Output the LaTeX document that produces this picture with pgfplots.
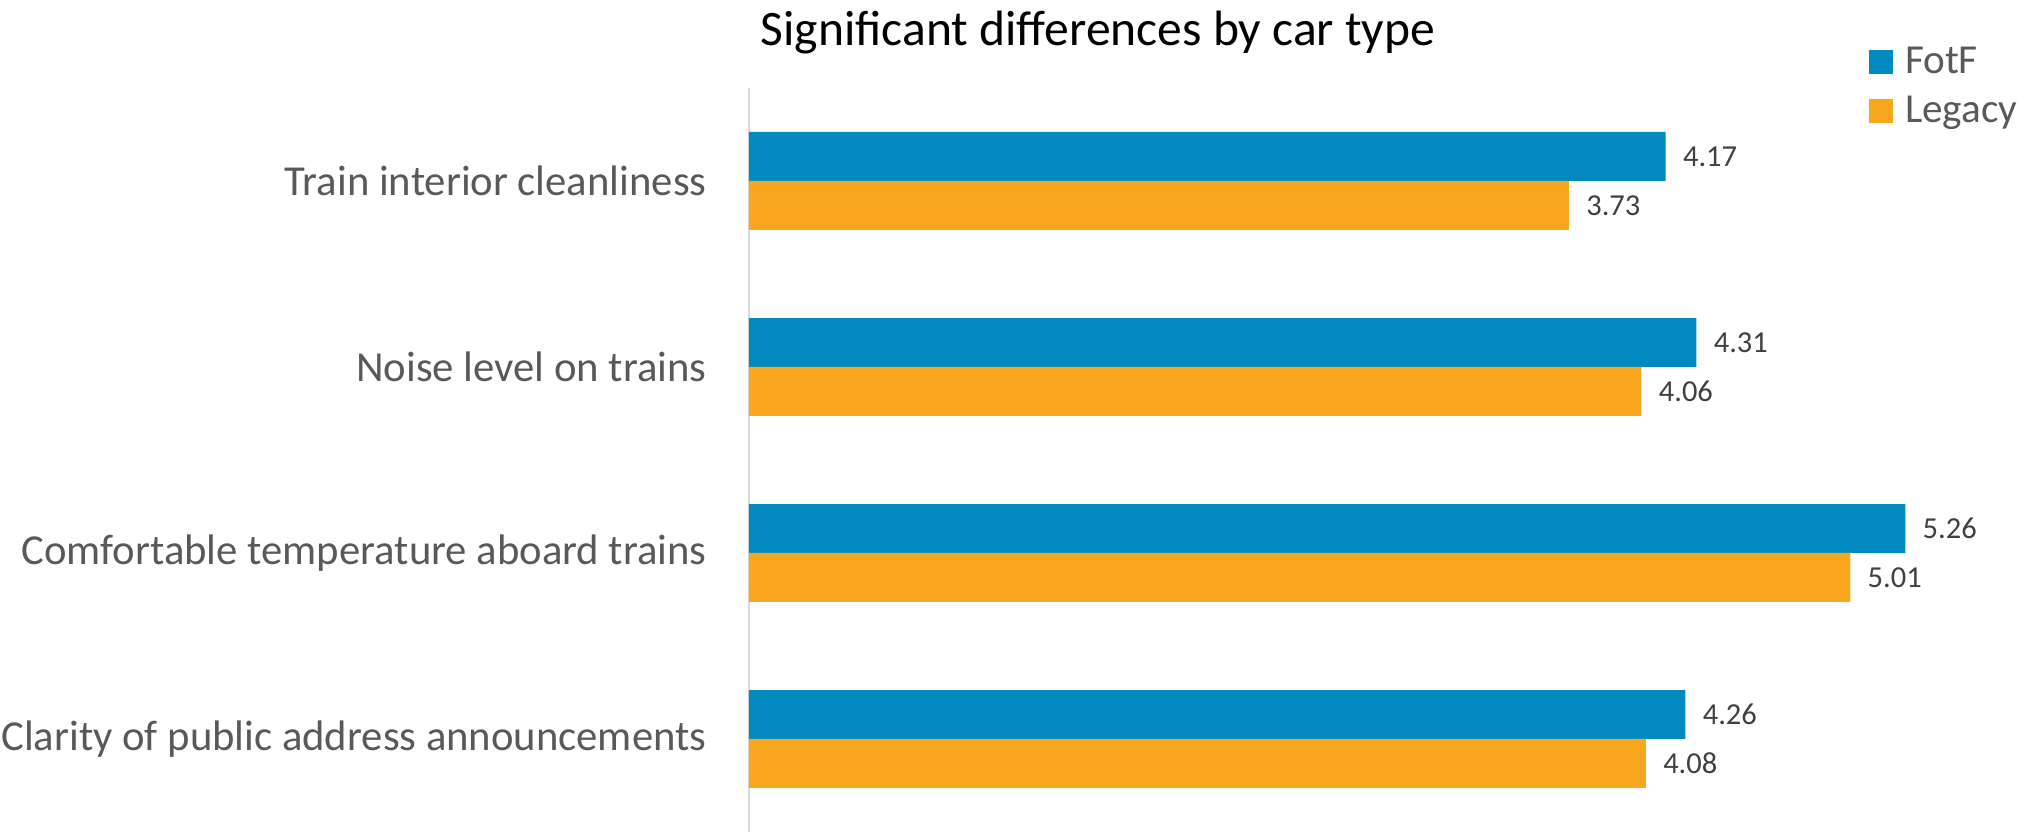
\documentclass[border=0pt]{standalone}
\usepackage{pgfplots}
\pgfplotsset{compat=1.18}
\usepackage{fontspec}
\setmainfont{Carlito}

\definecolor{fotf}{RGB}{2,138,192}
\definecolor{legacy}{RGB}{247,166,29}
\definecolor{labelgray}{RGB}{89,89,89}
\definecolor{datagray}{RGB}{64,64,64}
\definecolor{axisgray}{RGB}{217,217,217}

% square legend marker
\pgfplotsset{sqlegend/.style={legend image code/.code={%
    \fill[##1] (0bp,0bp) rectangle (12bp,12bp);}}}

\begin{document}
\begin{tikzpicture}
% picture = 2024 x 832 px at 0.5bp per px
\begin{axis}[
    at={(374.5bp,0bp)}, anchor=south west,
    width=604.5bp, height=372bp, scale only axis,
    xmin=0, xmax=5.5,
    ymin=-0.5, ymax=3.5,
    clip=false,
    xbar, bar width=0.2634,
    every axis plot post/.append style={sqlegend},
    hide x axis,
    axis y line*=left,
    axis line style={-},
    y axis line style={draw=axisgray, line width=1bp},
    major tick length=0pt,
    ytick={0,1,2,3},
    yticklabels={Clarity of public address announcements,
                 Comfortable temperature aboard trains,
                 Noise level on trains,
                 Train interior cleanliness},
    yticklabel style={font=\fontsize{21.35bp}{25bp}\selectfont, text=labelgray,
                      inner sep=0pt, xshift=-21bp},
    title={Significant differences by car type},
    title style={at={(0.28867,1)}, anchor=base, yshift=15.5bp,
                 font=\fontsize{24.8bp}{30bp}\selectfont, text=black},
    point meta=x,
    nodes near coords={\pgfmathprintnumber[fixed,fixed zerofill,precision=2,assume math mode=true]{\pgfplotspointmeta}},
    every node near coord/.append style={anchor=west, inner sep=0pt, xshift=8.5bp,
                 font=\fontsize{15.25bp}{18bp}\selectfont, text=datagray},
    legend style={at={(0.92639,1.05914)}, anchor=north west, draw=none, fill=none,
                  inner sep=0pt, outer sep=0pt, row sep=0pt,
                  cells={anchor=base west},
                  /tikz/every odd column/.append style={column sep=6bp},
                  nodes={inner sep=0pt, text height=15bp, text depth=9.5bp,
                         font=\fontsize{20.6bp}{24bp}\selectfont, text=labelgray}},
]
\addplot[fill=fotf, draw=none, bar shift=0.1317]
    coordinates {(4.26,0) (5.26,1) (4.31,2) (4.17,3)};
\addlegendentry{FotF}
\addplot[fill=legacy, draw=none, bar shift=-0.1317]
    coordinates {(4.08,0) (5.01,1) (4.06,2) (3.73,3)};
\addlegendentry{Legacy}
\end{axis}
\pgfresetboundingbox
\path[use as bounding box] (0bp,0bp) rectangle (1012bp,416bp);
\end{tikzpicture}
\end{document}
